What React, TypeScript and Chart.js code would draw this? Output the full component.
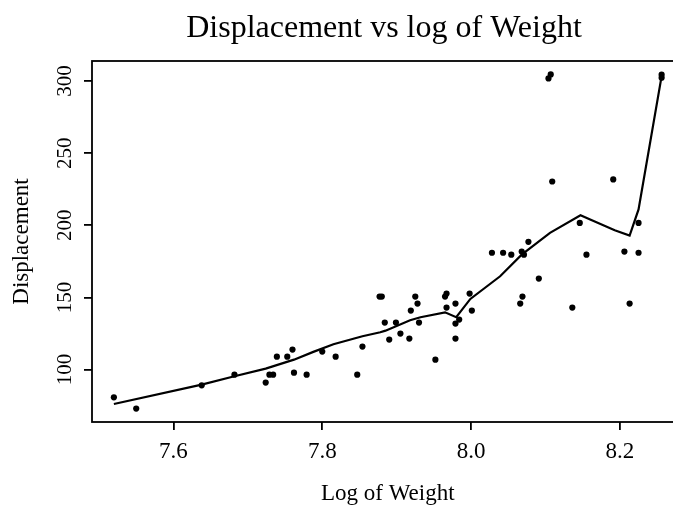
import React, { useEffect, useRef } from "react";
import { Chart, registerables } from "chart.js";

Chart.register(...registerables);

const title = "Displacement vs log of Weight";
const xTitle = "Log of Weight";
const yTitle = "Displacement";

const xTicks = [7.6, 7.8, 8.0, 8.2];
const yTicks = [100, 150, 200, 250, 300];
const xRange = [7.4906, 8.2854];
const yRange = [63.7, 313.9];

const logWeight = [
  7.52, 7.55, 7.638, 7.682, 7.724, 7.729, 7.734, 7.739, 7.753, 7.76,
  7.762, 7.779, 7.8, 7.818, 7.847, 7.854, 7.877, 7.88, 7.884, 7.89,
  7.899, 7.905, 7.917, 7.919, 7.925, 7.928, 7.93, 7.952, 7.965, 7.967,
  7.967, 7.979, 7.979, 7.984, 7.979, 7.998, 8.001, 8.028, 8.043, 8.054,
  8.068, 8.071, 8.077, 8.066, 8.069, 8.091, 8.136, 8.146, 8.155, 8.206,
  8.213, 8.225, 8.225, 8.104, 8.107, 8.109, 8.191, 8.256, 8.256,
];
const displacement = [
  80.8, 73, 89.1, 96.5, 91, 96.5, 96.5, 109, 109, 113.9,
  97.9, 96.5, 112.5, 109, 96.5, 116, 150.6, 150.6, 132.6, 120.8,
  132.6, 125, 121.5, 140.9, 150.6, 145.8, 132.6, 106.9, 150.6, 152.7,
  143, 145.8, 131.9, 134.7, 121.5, 152.7, 140.9, 181, 181, 179.7,
  181.8, 179.7, 188.6, 145.8, 150.6, 163.1, 143, 201.7, 179.7, 181.8,
  145.8, 181, 201.7, 301.8, 304.6, 230.4, 231.8, 302.3, 304.4,
];

const fitX = [
  7.52, 7.638, 7.682, 7.724, 7.762, 7.788, 7.815, 7.854, 7.878, 7.885,
  7.918, 7.932, 7.965, 7.98, 7.999, 8.039, 8.068, 8.106, 8.147, 8.16,
  8.193, 8.213, 8.225, 8.256,
];
const fitY = [
  76.2, 89.6, 95.4, 100.7, 106.9, 112.3, 117.6, 123.1, 125.9, 127.0,
  134.2, 136.3, 139.7, 136.3, 149.0, 164.7, 179.7, 194.8, 207, 204,
  196.6, 192.9, 211, 303.4,
];

const FONT = "'Liberation Serif', 'Times New Roman', serif";

const framePlugin = {
  id: "frameAndLabels",
  afterDraw(chart: any) {
    const { ctx, chartArea } = chart;
    ctx.save();
    ctx.strokeStyle = "#000";
    ctx.lineWidth = 1.8;
    ctx.strokeRect(
      chartArea.left,
      chartArea.top,
      chartArea.right - chartArea.left,
      chartArea.bottom - chartArea.top
    );
    // main title
    ctx.fillStyle = "#000";
    ctx.font = `32px ${FONT}`;
    ctx.textAlign = "center";
    ctx.textBaseline = "alphabetic";
    ctx.fillText(title, 384, 36.5);
    // rotated y tick labels
    const ys = chart.scales.y;
    ctx.font = `21px ${FONT}`;
    for (const t of ys.ticks) {
      const py = ys.getPixelForValue(t.value);
      ctx.save();
      ctx.translate(70.5, py);
      ctx.rotate(-Math.PI / 2);
      ctx.textAlign = "center";
      ctx.textBaseline = "alphabetic";
      ctx.fillText(String(t.value), 0, 0);
      ctx.restore();
    }
    ctx.restore();
  },
};

export default function App() {
  const ref = useRef<HTMLCanvasElement | null>(null);
  useEffect(() => {
    if (!ref.current) return;
    const points = logWeight.map((x, i) => ({ x, y: displacement[i] }));
    const fit = fitX.map((x, i) => ({ x, y: fitY[i] }));
    const chart = new Chart(ref.current, {
      type: "scatter",
      data: {
        datasets: [
          {
            label: "lowess",
            data: fit,
            showLine: true,
            borderColor: "#000",
            borderWidth: 2.2,
            pointRadius: 0,
            tension: 0,
            fill: false,
          },
          {
            label: "data",
            data: points,
            backgroundColor: "#000",
            borderWidth: 0,
            pointRadius: 3.1,
          },
        ],
      },
      options: {
        responsive: false,
        animation: false,
        events: [],
        layout: { padding: { top: 61, right: 16.5, left: 0, bottom: 0 } },
        plugins: {
          legend: { display: false },
          title: { display: false },
          tooltip: { enabled: false },
        },
        scales: {
          x: {
            type: "linear",
            min: xRange[0],
            max: xRange[1],
            afterBuildTicks: (s: any) => {
              s.ticks = xTicks.map((v) => ({ value: v }));
            },
            afterFit: (s: any) => {
              s.height = 86;
            },
            border: { display: false },
            grid: {
              drawOnChartArea: false,
              drawTicks: true,
              tickLength: 8,
              color: "#000",
              lineWidth: 1.8,
            },
            ticks: {
              color: "#000",
              font: { family: FONT, size: 23 },
              padding: 8.4,
              maxRotation: 0,
              callback: (v: any) => Number(v).toFixed(1),
            },
            title: {
              display: true,
              text: xTitle,
              color: "#000",
              font: { family: FONT, size: 23 },
              padding: { top: 0, bottom: 0.3 },
            },
          },
          y: {
            type: "linear",
            min: yRange[0],
            max: yRange[1],
            afterBuildTicks: (s: any) => {
              s.ticks = yTicks.map((v) => ({ value: v }));
            },
            afterFit: (s: any) => {
              s.width = 92;
            },
            border: { display: false },
            grid: {
              drawOnChartArea: false,
              drawTicks: true,
              tickLength: 8,
              color: "#000",
              lineWidth: 1.8,
            },
            ticks: { display: false },
            title: {
              display: true,
              text: yTitle,
              color: "#000",
              font: { family: FONT, size: 23 },
              padding: { top: 7.9, bottom: 0 },
            },
          },
        },
      },
      plugins: [framePlugin],
    });
    return () => chart.destroy();
  }, []);
  return (
    <div
      style={{
        position: "fixed",
        left: 0,
        top: 0,
        width: 673,
        height: 508,
        overflow: "hidden",
        background: "#fff",
      }}
    >
      <canvas ref={ref} width={700} height={508} style={{ display: "block" }} />
    </div>
  );
}
